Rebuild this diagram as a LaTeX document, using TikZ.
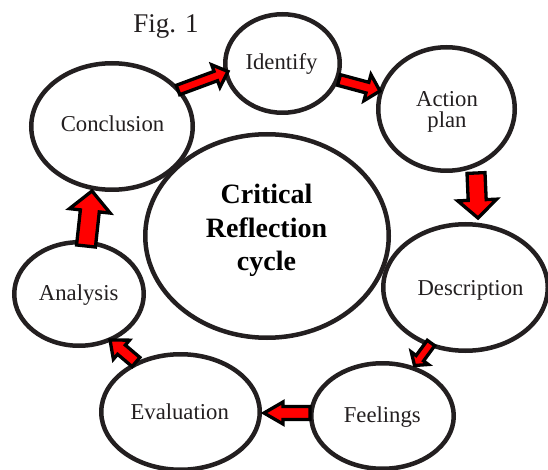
\documentclass[tikz,border=0pt]{standalone}
\usepackage{fontspec}
\setmainfont{Liberation Serif}
\usetikzlibrary{shapes.geometric,calc}
\definecolor{ink}{HTML}{231F20}
\definecolor{arrred}{HTML}{FF0000}
\newdimen\bax
\newdimen\bay
\newcommand\blockarrow[5]{%
  \pgfmathanglebetweenpoints{\pgfpointanchor{#1}{center}}{\pgfpointanchor{#2}{center}}%
  \let\baang\pgfmathresult
  \pgfextractx{\bax}{\pgfpointdiff{\pgfpointanchor{#1}{center}}{\pgfpointanchor{#2}{center}}}%
  \pgfextracty{\bay}{\pgfpointdiff{\pgfpointanchor{#1}{center}}{\pgfpointanchor{#2}{center}}}%
  \pgfmathsetmacro\balen{veclen(\bax,\bay)}%
  \begin{scope}[shift={(#1)},rotate=\baang]
    \draw[barrow] (0,-#3) -- ({\balen-#5},-#3) -- ({\balen-#5},-#4) -- (\balen,0)
      -- ({\balen-#5},#4) -- ({\balen-#5},#3) -- (0,#3) -- cycle;
  \end{scope}}
\begin{document}
\begin{tikzpicture}[x=1pt,y=-1pt,
  stage/.style={ellipse, draw=ink, fill=white, line width=4.5pt, inner sep=0pt},
  lab/.style={font=\fontsize{22.7}{21}\selectfont, text=ink, inner sep=0pt, anchor=base},
  boldlab/.style={font=\fontsize{28}{33.5}\selectfont\bfseries, text=black, inner sep=0pt, align=center, anchor=north},
  barrow/.style={fill=arrred, draw=black, line width=3.3pt, line join=miter}]
\useasboundingbox (0,0) rectangle (548,470);

% stages
\node[stage, minimum width=114.5pt, minimum height=98.5pt] (ident) at (282.5,63.5) {};
\node[stage, minimum width=136.5pt, minimum height=123.5pt] (action) at (446.5,109) {};
\node[stage, minimum width=161.5pt, minimum height=126.5pt] (concl) at (112,126.5) {};
\node[stage, minimum width=243.5pt, minimum height=203.5pt] (crit) at (267,236) {};
\node[stage, minimum width=164.5pt, minimum height=126.5pt] (descr) at (465.5,287.5) {};
\node[stage, minimum width=142.5pt, minimum height=105.5pt] (feel) at (382.5,416) {};
\node[stage, minimum width=158.5pt, minimum height=115.5pt] (eval) at (180.5,412) {};
\node[stage, minimum width=129.5pt, minimum height=103.5pt] (anal) at (79,294) {};

% labels
\node[font=\fontsize{27}{30}\selectfont, text=ink, inner sep=0pt, anchor=base] (fig) at (166,32.5) {Fig. 1};
\node[lab] (tident) at (281.5,70) {Identify};
\node[lab, align=center, anchor=north] (taction) at (447,91) {Action\\plan};
\node[lab] (tconcl) at (112.5,132) {Conclusion};
\node[lab] (tdescr) at (470.5,295) {Description};
\node[lab] (tanal) at (78.7,300) {Analysis};
\node[lab] (teval) at (179.7,419) {Evaluation};
\node[lab] (tfeel) at (382.3,422) {Feelings};
\node[boldlab] (tcrit) at (266.5,184) {Critical\\Reflection\\cycle};

% block arrows
\coordinate (c1a) at (178,90);  \coordinate (c1b) at (228,71.5);
\coordinate (c2a) at (339,80);  \coordinate (c2b) at (380,91);
\coordinate (c3a) at (476,173); \coordinate (c3b) at (478,218);
\coordinate (c4a) at (431,343); \coordinate (c4b) at (414.5,365.5);
\coordinate (c5a) at (310,413); \coordinate (c5b) at (264,413);
\coordinate (c6a) at (136,362); \coordinate (c6b) at (110,340);
\coordinate (c7a) at (86,246);  \coordinate (c7b) at (92,191);
\blockarrow{c1a}{c1b}{5}{12}{13}
\blockarrow{c2a}{c2b}{5.5}{13.5}{13}
\blockarrow{c3a}{c3b}{9}{19.5}{18}
\blockarrow{c4a}{c4b}{4.6}{10.6}{9}
\blockarrow{c5a}{c5b}{6.5}{11}{19}
\blockarrow{c6a}{c6b}{6}{12.5}{15}
\blockarrow{c7a}{c7b}{9.5}{20.5}{20}
\end{tikzpicture}
\end{document}
